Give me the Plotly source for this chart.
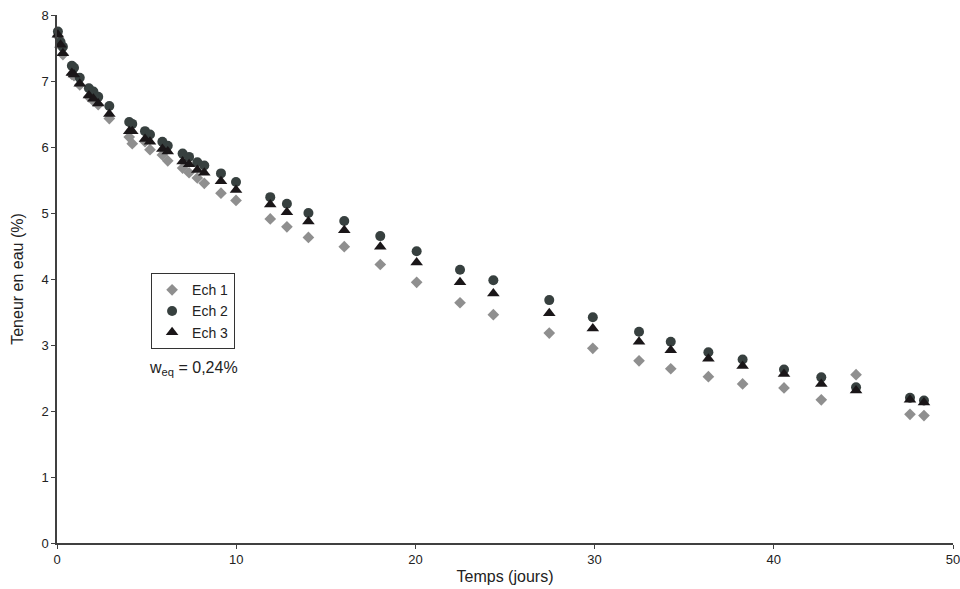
import plotly.graph_objects as go

temps = [0.05, 0.2, 0.33, 0.83, 0.95, 1.27, 1.78, 2.03, 2.3, 2.92, 4.03, 4.2, 4.91, 5.19,
         5.88, 6.18, 7.01, 7.37, 7.83, 8.22, 9.15, 9.99, 11.9, 12.83, 14.03, 16.03, 18.04,
         20.07, 22.49, 24.35, 27.47, 29.9, 32.48, 34.25, 36.35, 38.26, 40.57, 42.65, 44.59,
         47.6, 48.38]

ech1 = [7.68, 7.53, 7.4, 7.1, 7.08, 6.94, 6.76, 6.7, 6.64, 6.43, 6.15, 6.05, 6.08, 5.96,
        5.88, 5.79, 5.68, 5.61, 5.53, 5.45, 5.30, 5.19, 4.91, 4.79, 4.63, 4.49, 4.22,
        3.95, 3.64, 3.46, 3.18, 2.95, 2.76, 2.64, 2.52, 2.41, 2.35, 2.17, 2.55,
        1.95, 1.93]

ech2 = [7.75, 7.59, 7.52, 7.23, 7.2, 7.05, 6.89, 6.84, 6.76, 6.62, 6.38, 6.35, 6.24, 6.19,
        6.08, 6.02, 5.9, 5.85, 5.77, 5.72, 5.6, 5.47, 5.24, 5.14, 5.0, 4.88, 4.65,
        4.42, 4.14, 3.98, 3.68, 3.42, 3.2, 3.05, 2.89, 2.78, 2.63, 2.51, 2.36,
        2.2, 2.16]

ech3 = [7.70, 7.55, 7.42, 7.12, 7.10, 6.96, 6.78, 6.73, 6.66, 6.5, 6.24, 6.24, 6.12, 6.08,
        5.97, 5.93, 5.78, 5.74, 5.65, 5.61, 5.48, 5.35, 5.13, 5.01, 4.87, 4.74, 4.49,
        4.25, 3.95, 3.78, 3.48, 3.25, 3.05, 2.92, 2.79, 2.68, 2.56, 2.41, 2.31,
        2.17, 2.13]

x_ticks = [0, 10, 20, 30, 40, 50]
y_ticks = [0, 1, 2, 3, 4, 5, 6, 7, 8]

fig = go.Figure()
fig.add_trace(go.Scatter(x=temps, y=ech1, mode="markers", name="Ech 1", cliponaxis=False,
                         marker=dict(symbol="diamond", size=9, color="#8f8f8f")))
fig.add_trace(go.Scatter(x=temps, y=ech2, mode="markers", name="Ech 2", cliponaxis=False,
                         marker=dict(symbol="circle", size=10, color="#37403f")))
fig.add_trace(go.Scatter(x=temps, y=ech3, mode="markers", name="Ech 3", cliponaxis=False,
                         marker=dict(symbol="triangle-up", size=11, color="#1a1618")))

axis_common = dict(showgrid=False, zeroline=False, showline=True, linecolor="#404040",
                   linewidth=1.5, ticks="outside", ticklen=4, tickcolor="#404040",
                   automargin=False, ticklabeloverflow="allow",
                   tickfont=dict(family="Liberation Sans, Arial", size=13, color="#222"))

fig.update_layout(
    width=960, height=589,
    margin=dict(l=57, r=7, t=15, b=46),
    plot_bgcolor="white", paper_bgcolor="white",
    font=dict(family="Liberation Sans, Arial", color="#222"),
    xaxis=dict(range=[0, 50], tickvals=x_ticks,
               title=dict(text="Temps (jours)", font=dict(size=16), standoff=4),
               **axis_common),
    yaxis=dict(range=[0, 8], tickvals=y_ticks,
               title=dict(text="Teneur en eau (%)", font=dict(size=16), standoff=14),
               **axis_common),
    legend=dict(x=0.105, y=0.511, xanchor="left", yanchor="top",
                bordercolor="#333", borderwidth=1, bgcolor="white",
                font=dict(size=14, color="#222"), itemwidth=30, tracegroupgap=0),
    annotations=[dict(x=0.10, y=0.33, xref="paper", yref="paper", xanchor="left",
                      yanchor="middle", showarrow=False,
                      text="w<sub>eq</sub> = 0,24%", font=dict(size=16, color="#222"))],
)

fig.write_html("out.html", config={"displayModeBar": False},
               post_script="document.body.style.margin='0';document.body.style.overflow='hidden';")
